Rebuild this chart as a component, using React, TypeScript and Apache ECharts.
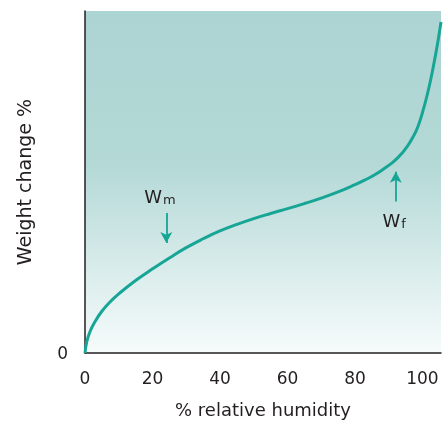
import React, { useEffect, useRef } from "react";
import * as echarts from "echarts";

const humidity = [0, 0.5, 1.5, 3, 5, 7.5, 10, 15, 20, 25, 30, 35, 40, 45, 50, 55, 60, 65, 70, 75, 80, 83, 86, 88.5, 91, 92.5, 94, 95.5, 97, 98.5, 100, 101.5, 103, 104.5, 105.5];
const weightChange = [0, 3.2, 6.3, 9.2, 12.2, 15, 17.3, 21.2, 24.6, 27.8, 30.8, 33.4, 35.7, 37.6, 39.3, 40.8, 42.2, 43.7, 45.3, 47.1, 49.2, 50.6, 52.2, 53.8, 55.6, 56.9, 58.5, 60.4, 62.8, 65.8, 70.3, 75.8, 82.6, 90.6, 96.8];
const xTicks = [0, 20, 40, 60, 80, 100];

const wmArrow = { x: 24.1, from: 40.9, to: 32.2 };
const wfArrow = { x: 92.1, from: 44.3, to: 53.0 };
const wmLabel = { x: 22.2, y: 45.8, main: "W", sub: "m" };
const wfLabel = { x: 91.6, y: 38.8, main: "W", sub: "f" };

const TEAL = "#17a596";
const INK = "#231f20";
const FONT = "DejaVu Sans, sans-serif";

export default function App() {
  const ref = useRef<HTMLDivElement>(null);
  useEffect(() => {
    if (!ref.current) return;
    const chart = echarts.init(ref.current, null, { renderer: "svg" });
    const rich = {
      w: { fontSize: 18, color: INK, fontFamily: FONT },
      s: { fontSize: 13, color: INK, fontFamily: FONT, padding: [6, 0, 0, 1] },
    };
    chart.setOption({
      animation: false,
      grid: {
        left: 85,
        top: 11,
        right: 0,
        bottom: 67,
        show: true,
        borderWidth: 0,
        backgroundColor: new echarts.graphic.LinearGradient(0, 0, 0, 1, [
          { offset: 0, color: "#acd4d2" },
          { offset: 0.45, color: "#b4d9d7" },
          { offset: 1, color: "#f6fbfb" },
        ]),
      },
      xAxis: {
        type: "value",
        min: 0,
        max: 105.5,
        interval: 20,
        name: "% relative humidity",
        nameLocation: "middle",
        nameGap: 47,
        nameTextStyle: { fontSize: 18, color: INK, fontFamily: FONT },
        axisLine: { show: true, lineStyle: { color: INK, width: 1.5 } },
        axisTick: { show: false },
        splitLine: { show: false },
        axisLabel: {
          margin: 16,
          fontSize: 17,
          color: INK,
          fontFamily: FONT,
          showMaxLabel: true,
          formatter: (v: number) => (xTicks.includes(v) ? String(v) : ""),
        },
      },
      yAxis: {
        type: "value",
        min: 0,
        max: 100,
        interval: 100,
        name: "Weight change %",
        nameLocation: "middle",
        nameRotate: 90,
        nameGap: 52,
        nameTextStyle: { fontSize: 19, color: INK, fontFamily: FONT },
        axisLine: { show: true, lineStyle: { color: INK, width: 1.5 } },
        axisTick: { show: false },
        splitLine: { show: false },
        axisLabel: {
          margin: 17,
          fontSize: 17,
          color: INK,
          fontFamily: FONT,
          formatter: (v: number) => (v === 0 ? "0" : ""),
        },
      },
      series: [
        {
          type: "line",
          smooth: true,
          showSymbol: false,
          data: humidity.map((h, i) => [h, weightChange[i]]),
          lineStyle: { color: TEAL, width: 3 },
          markLine: {
            silent: true,
            symbol: ["none", "arrow"],
            symbolSize: [9, 11],
            label: { show: false },
            lineStyle: { color: TEAL, width: 1.8, type: "solid" },
            data: [
              [{ coord: [wmArrow.x, wmArrow.from] }, { coord: [wmArrow.x, wmArrow.to] }],
              [{ coord: [wfArrow.x, wfArrow.from] }, { coord: [wfArrow.x, wfArrow.to] }],
            ],
          },
          markPoint: {
            silent: true,
            symbol: "circle",
            symbolSize: 0,
            label: { show: true, position: "inside", rich },
            data: [wmLabel, wfLabel].map((l) => ({
              coord: [l.x, l.y],
              label: { formatter: `{w|${l.main}}{s|${l.sub}}` },
            })),
          },
        },
      ],
    });
    return () => chart.dispose();
  }, []);
  return (
    <div
      ref={ref}
      style={{ position: "fixed", left: 0, top: 0, width: 444, height: 423 }}
    />
  );
}
